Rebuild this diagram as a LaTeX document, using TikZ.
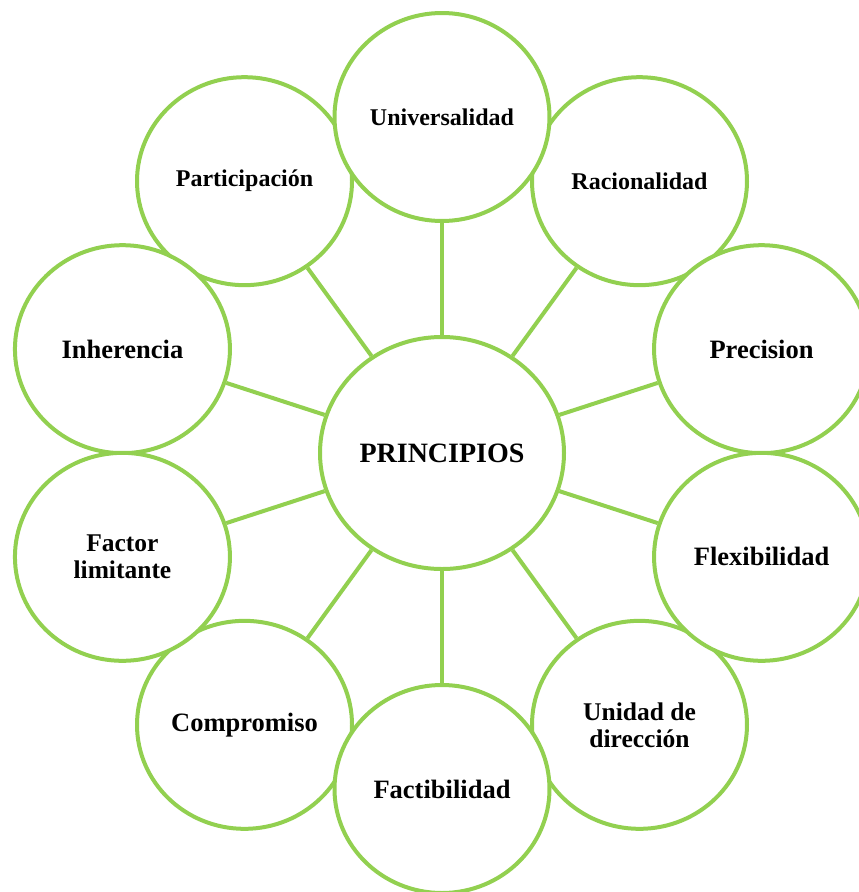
\documentclass[tikz,border=0pt]{standalone}
\usepackage{fontspec}
\usetikzlibrary{shapes.geometric}
\setmainfont{Liberation Serif}
\definecolor{gr}{RGB}{146,208,80}
\begin{document}
\begin{tikzpicture}[x=1pt,y=-1pt,
  outer/.style={ellipse,draw=gr,line width=4pt,fill=white,minimum width=215pt,minimum height=208pt,inner sep=0pt,align=center,font=\bfseries\fontsize{25}{27}\selectfont},
  small/.style={font=\bfseries\fontsize{24}{26}\selectfont},
  big/.style={font=\bfseries\fontsize{26.5}{28}\selectfont},
  mid/.style={font=\bfseries\fontsize{25.5}{27}\selectfont},
  hub/.style={ellipse,draw=gr,line width=4pt,fill=white,minimum width=244pt,minimum height=232pt,inner sep=0pt,align=center,font=\bfseries\fontsize{28}{30}\selectfont},
  spoke/.style={draw=gr,line width=4pt}]
\useasboundingbox (0,0) rectangle (859,892);
\clip (0,0) rectangle (859,892);
\def\cx{442}\def\cy{453}\def\rr{336}
\node[outer,small] (par) at ({\cx+\rr*cos(126)},{\cy-\rr*sin(126)}) {Participación};
\node[outer,small] (rac) at ({\cx+\rr*cos(54)},{\cy-\rr*sin(54)}) {Racionalidad};
\node[outer,big] (com) at ({\cx+\rr*cos(-126)},{\cy-\rr*sin(-126)}) {Compromiso};
\node[outer,mid] (uni) at ({\cx+\rr*cos(-54)},{\cy-\rr*sin(-54)}) {Unidad de\\dirección};
\node[outer,small] (unv) at ({\cx+\rr*cos(90)},{\cy-\rr*sin(90)}) {Universalidad};
\node[outer,big] (pre) at ({\cx+\rr*cos(18)},{\cy-\rr*sin(18)}) {Precision};
\node[outer,big] (fle) at ({\cx+\rr*cos(-18)},{\cy-\rr*sin(-18)}) {Flexibilidad};
\node[outer,big] (inh) at ({\cx+\rr*cos(162)},{\cy-\rr*sin(162)}) {Inherencia};
\node[outer,mid] (fac) at ({\cx+\rr*cos(-162)},{\cy-\rr*sin(-162)}) {Factor\\limitante};
\node[outer,big] (fct) at ({\cx+\rr*cos(-90)},{\cy-\rr*sin(-90)}) {Factibilidad};
\node[hub] (c) at (\cx,\cy) {PRINCIPIOS};
\foreach \n in {par,rac,com,uni,unv,pre,fle,inh,fac,fct}
  \draw[spoke] (c) -- (\n);
\end{tikzpicture}
\end{document}
